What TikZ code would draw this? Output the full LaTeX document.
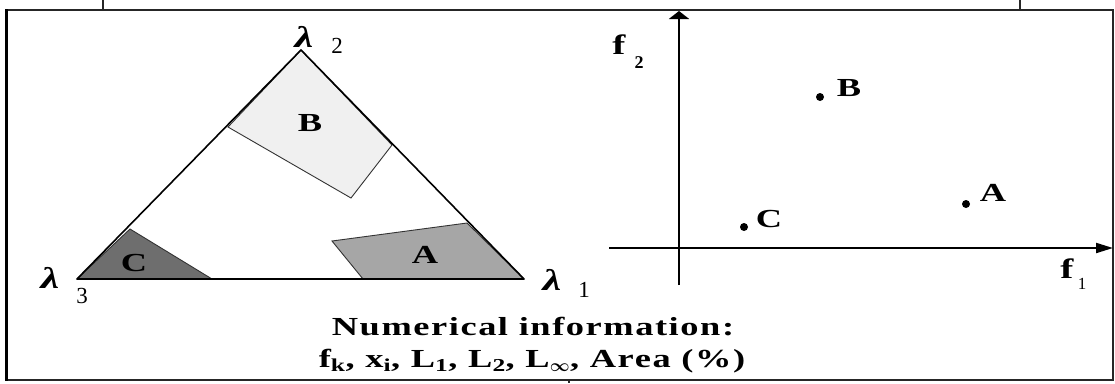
\documentclass[tikz,border=0pt]{standalone}
\usepackage{amsmath,amssymb}
\usepackage{graphicx}
\usepackage{fontspec}
\setmainfont{Liberation Serif}
\newfontfamily\widefont[FakeStretch=1.4,LetterSpace=6]{Liberation Serif}
\newfontfamily\ptfont[FakeStretch=1.4]{Liberation Serif}
\usetikzlibrary{positioning,arrows.meta}

\begin{document}
\begin{tikzpicture}[x=1pt,y=-1pt,
  frame/.style={draw=black!85,line width=2pt},
  edge/.style={draw=black,line width=1.6pt,line join=round},
  part/.style={draw=black!80,line width=0.9pt},
  yaxis/.style={line width=2pt,-{Triangle[length=8pt,width=20pt]}},
  xaxis/.style={line width=2pt,-{Triangle[length=17pt,width=10pt]}},
  lam/.style={inner sep=0pt,font=\bfseries\itshape\fontsize{30}{30}\selectfont},
  sub/.style={inner sep=0pt,font=\fontsize{23}{23}\selectfont},
  reg/.style={inner sep=0pt,font=\ptfont\bfseries\fontsize{26}{26}\selectfont},
  dot/.style={circle,fill=black,inner sep=0pt,minimum size=8pt},
  info/.style={inner sep=0pt,font=\widefont\bfseries\fontsize{26}{26}\selectfont}]
\useasboundingbox (0,0) rectangle (1115,383);

% frame and cut-off stubs
\draw[frame] (6,10) rectangle (1113,380);
\draw[black,line width=3pt] (6,9) -- (6,381);
\draw[frame] (103,0) -- (103,10);
\draw[frame] (1020,0) -- (1020,10);
\draw[frame] (569,380) -- (569,383);

% simplex
\coordinate (l3) at (77,279);
\coordinate (l1) at (524,279);
\coordinate (l2) at (301,50);
\filldraw[part,fill=black!6] (l2) -- (392,145) -- (351,198) -- (228,127) -- cycle;
\filldraw[part,fill=black!35] (332,241) -- (467,223) -- (l1) -- (363,279) -- cycle;
\filldraw[part,fill=black!57] (l3) -- (130,229) -- (212,279) -- cycle;
\draw[edge] (l3) -- (l1) -- (l2) -- cycle;
\node[reg] (rb) at (310,123) {B};
\node[reg] (ra) at (425,255) {A};
\node[reg] (rc) at (134,263) {C};

\node[lam] (lam2) at (304,37) {\scalebox{1.4}[1]{λ}};
\node[sub] (sub2) at (337,46) {2};
\node[lam] (lam1) at (552,280) {\scalebox{1.4}[1]{λ}};
\node[sub] (sub1) at (584,290) {1};
\node[lam] (lam3) at (50,278) {\scalebox{1.4}[1]{λ}};
\node[sub] (sub3) at (82,296) {3};

% feature space
\coordinate (o) at (679,248);
\coordinate (ybot) at (679,285);
\coordinate (ytop) at (679,11);
\coordinate (xleft) at (609,248);
\coordinate (xright) at (1113,248);
\draw[yaxis] (ybot) -- (ytop);
\draw[xaxis] (xleft) -- (xright);
\node[reg,font=\ptfont\bfseries\fontsize{28}{28}\selectfont] (f2) at (619,45) {f};
\node[sub,font=\bfseries\fontsize{18}{18}\selectfont] (f2s) at (639,63) {2};
\node[reg,font=\ptfont\bfseries\fontsize{28}{28}\selectfont] (f1) at (1067,269) {f};
\node[sub,font=\fontsize{17}{17}\selectfont] (f1s) at (1082,284) {1};

\node[dot] (pb) at (820,97) {};
\node[dot] (pa) at (966,204) {};
\node[dot] (pc) at (744,227) {};
\node[reg] (lb) at (849,88) {B};
\node[reg] (la) at (993,193) {A};
\node[reg] (lc) at (769,219) {C};

% numerical information
\node[info] (num) at (533,327) {Numerical information:};
\node[info] (vals) at (532,361) {f\textsubscript{k}, x\textsubscript{i}, L\textsubscript{1}, L\textsubscript{2}, L\textsubscript{$\boldsymbol{\infty}$}, Area (\%)};
\end{tikzpicture}
\end{document}
